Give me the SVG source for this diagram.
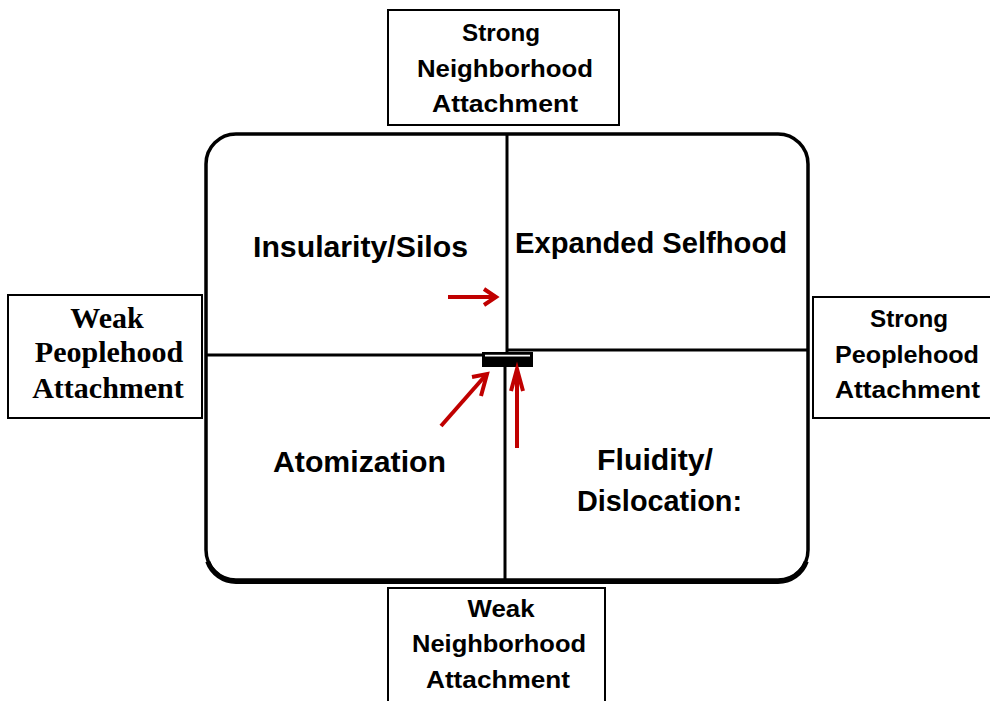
<svg xmlns="http://www.w3.org/2000/svg" width="990" height="701" viewBox="0 0 990 701">
<style>
.box{fill:#fff;stroke:#000;stroke-width:2}
.frame{fill:none;stroke:#000;stroke-width:3.5}
.div{stroke:#000;stroke-width:3;fill:none}
.lbl{font-family:"Liberation Sans",Arial,sans-serif;font-weight:bold;fill:#000;text-anchor:middle}
.q{font-size:30px}
.s{font-size:24px}
.serif{font-family:"Liberation Serif","Times New Roman",serif;font-weight:bold;font-size:30px;fill:#000;text-anchor:middle}
.arrow{fill:none;stroke:#C00000;stroke-width:4;stroke-linecap:butt;stroke-linejoin:miter}
</style>
<rect width="990" height="701" fill="#fff"/>
<g id="matrix">
<rect class="frame" x="206" y="134" width="602" height="446" rx="30" ry="30"/>
<path d="M207.7 560 A30 30 0 0 0 236 580 L778 580 A30 30 0 0 0 806.3 560" fill="none" stroke="#000" stroke-width="5" transform="translate(0,1.5)"/>
<line class="div" x1="507" y1="134" x2="507" y2="352"/>
<line class="div" x1="206" y1="355" x2="482" y2="355"/>
<line class="div" x1="507" y1="350" x2="808" y2="350"/>
<line class="div" x1="505" y1="366" x2="505" y2="580"/>
<rect x="482" y="352" width="51" height="15" fill="#000"/>
<line x1="485" y1="355.6" x2="530" y2="355.6" stroke="#fff" stroke-width="1.6"/>
</g>
<g id="q-insularity"><text class="lbl q" x="360.5" y="257" textLength="215" lengthAdjust="spacingAndGlyphs">Insularity/Silos</text></g>
<g id="q-expanded"><text class="lbl q" x="651" y="253" textLength="272" lengthAdjust="spacingAndGlyphs">Expanded Selfhood</text></g>
<g id="q-atomization"><text class="lbl q" x="359.5" y="472" textLength="173" lengthAdjust="spacingAndGlyphs">Atomization</text></g>
<g id="q-fluidity">
<text class="lbl q" x="655" y="470" textLength="116" lengthAdjust="spacingAndGlyphs">Fluidity/</text>
<text class="lbl q" x="659.5" y="511" textLength="165" lengthAdjust="spacingAndGlyphs">Dislocation:</text>
</g>
<g id="strong-neighborhood">
<rect class="box" x="388" y="10" width="231" height="115"/>
<text class="lbl s" x="501" y="41" textLength="78" lengthAdjust="spacingAndGlyphs">Strong</text>
<text class="lbl s" x="505" y="77" textLength="176" lengthAdjust="spacingAndGlyphs">Neighborhood</text>
<text class="lbl s" x="505" y="112" textLength="146" lengthAdjust="spacingAndGlyphs">Attachment</text>
</g>
<g id="weak-neighborhood">
<rect class="box" x="388" y="588" width="217" height="120"/>
<text class="lbl s" x="501" y="617" textLength="67" lengthAdjust="spacingAndGlyphs">Weak</text>
<text class="lbl s" x="499" y="652" textLength="174" lengthAdjust="spacingAndGlyphs">Neighborhood</text>
<text class="lbl s" x="498" y="688" textLength="144" lengthAdjust="spacingAndGlyphs">Attachment</text>
</g>
<g id="weak-peoplehood">
<rect class="box" x="8" y="295" width="194" height="123"/>
<text class="serif" x="107" y="328">Weak</text>
<text class="serif" x="109" y="362">Peoplehood</text>
<text class="serif" x="108" y="398">Attachment</text>
</g>
<g id="strong-peoplehood">
<rect class="box" x="813" y="297" width="190" height="121"/>
<text class="lbl s" x="909" y="327" textLength="78" lengthAdjust="spacingAndGlyphs">Strong</text>
<text class="lbl s" x="907" y="363" textLength="144" lengthAdjust="spacingAndGlyphs">Peoplehood</text>
<text class="lbl s" x="907.5" y="398" textLength="145" lengthAdjust="spacingAndGlyphs">Attachment</text>
</g>
<g id="connectors">
<line class="arrow" x1="448" y1="297" x2="495" y2="297"/>
<polyline class="arrow" points="484,289 496,297 484,305"/>
<line class="arrow" x1="441" y1="426" x2="485" y2="376" stroke-width="5"/>
<polyline class="arrow" points="472,377 487,374 481,396" stroke-width="5"/>
<line class="arrow" x1="517" y1="448" x2="517" y2="371"/>
<polyline class="arrow" points="511,391 517,369 523,391"/>
</g>
</svg>
